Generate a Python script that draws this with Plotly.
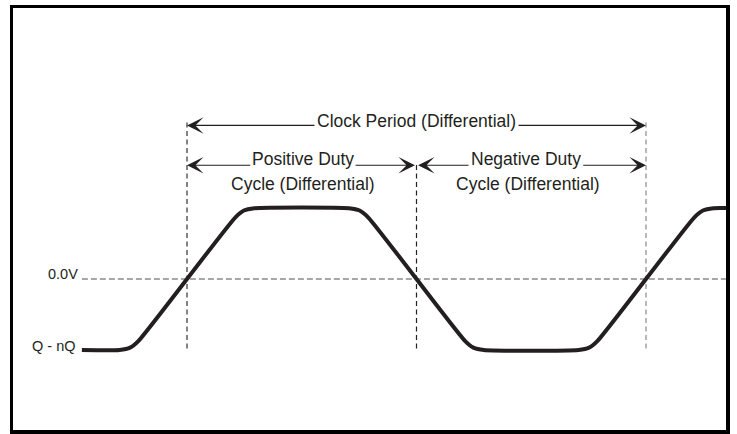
import plotly.graph_objects as go

# ---- data (time in clock periods, voltage normalised: 0 = crossing, +/-1 = rails)
wave_t = [-0.229, -0.147, -0.124, -0.105, 0.105, 0.124, 0.147,
          0.353, 0.376, 0.395, 0.605, 0.624, 0.647,
          0.853, 0.876, 0.895, 1.105, 1.124, 1.147, 1.19]
wave_v = [-1.0, -1.0, -0.967, -0.868, 0.868, 0.967, 1.0,
          1.0, 0.967, 0.868, -0.868, -0.967, -1.0,
          -1.0, -0.967, -0.868, 0.868, 0.967, 1.0, 1.0]

crossing_t = [0.0, 0.5, 1.0]
crossing_top = [2.227, 1.625, 2.227]
crossing_bottom = -0.98
crossing_colors = ["#333333", "#222222", "#8a8a8a"]

ref_level_v = 0.0
ref_level_t = [-0.229, 1.19]

level_labels = ["0.0V", "Q - nQ"]
level_label_t = [-0.233, -0.2375]
level_label_v = [0.078, -0.946]

# dimension arrows: (text, y level, start, end, text left/right edge)
dim_names = ["Clock Period (Differential)", "Positive Duty", "Negative Duty"]
dim_v = [2.167, 1.606, 1.606]
dim_start = [0.0, 0.0, 0.5033]
dim_end = [1.0, 0.4967, 1.0]
dim_text_left = [0.281, 0.141, 0.6166]
dim_text_right = [0.719, 0.364, 0.860]
dim_text_t = [0.5, 0.2527, 0.7386]
dim_text_v = [2.225, 1.697, 1.697]
sub_text = ["Cycle (Differential)", "Cycle (Differential)"]
sub_text_t = [0.2534, 0.742]
sub_text_v = [1.347, 1.347]

INK = "#231f20"
FONT = "Liberation Sans, Arial, Helvetica, sans-serif"

fig = go.Figure()

# reference level (0.0V) dashed line
fig.add_trace(go.Scatter(x=ref_level_t, y=[ref_level_v, ref_level_v], mode="lines",
                         line=dict(color="#8a8a8a", width=1.5, dash="6px,3px"),
                         hoverinfo="skip", showlegend=False))

# vertical crossing markers
for t, top, c in zip(crossing_t, crossing_top, crossing_colors):
    fig.add_trace(go.Scatter(x=[t, t], y=[crossing_bottom, top], mode="lines",
                             line=dict(color=c, width=1.2, dash="5px,3.5px"),
                             hoverinfo="skip", showlegend=False))

# waveform
fig.add_trace(go.Scatter(x=wave_t, y=wave_v, mode="lines",
                         line=dict(color=INK, width=4, shape="spline", smoothing=0.6),
                         hoverinfo="skip", showlegend=False))

annotations = []
for i in range(len(dim_names)):
    annotations.append(dict(x=dim_start[i], y=dim_v[i], ax=dim_text_left[i], ay=dim_v[i],
                            xref="x", yref="y", axref="x", ayref="y", text="",
                            showarrow=True, arrowhead=3, arrowsize=2.3, arrowwidth=1.2,
                            arrowcolor=INK, standoff=0))
    annotations.append(dict(x=dim_end[i], y=dim_v[i], ax=dim_text_right[i], ay=dim_v[i],
                            xref="x", yref="y", axref="x", ayref="y", text="",
                            showarrow=True, arrowhead=3, arrowsize=2.3, arrowwidth=1.2,
                            arrowcolor=INK, standoff=0))
    annotations.append(dict(x=dim_text_t[i], y=dim_text_v[i], xref="x", yref="y",
                            text=dim_names[i], showarrow=False, xanchor="center",
                            yanchor="middle", font=dict(family=FONT, size=17.5, color=INK)))
for s, t, v in zip(sub_text, sub_text_t, sub_text_v):
    annotations.append(dict(x=t, y=v, xref="x", yref="y", text=s, showarrow=False,
                            xanchor="center", yanchor="middle",
                            font=dict(family=FONT, size=17.5, color=INK)))
for s, t, v in zip(level_labels, level_label_t, level_label_v):
    annotations.append(dict(x=t, y=v, xref="x", yref="y", text=s, showarrow=False,
                            xanchor="right", yanchor="middle",
                            font=dict(family=FONT, size=14.5, color=INK)))

axis_common = dict(showgrid=False, zeroline=False, showticklabels=False, ticks="",
                   showline=True, mirror=True, linecolor="#000000", linewidth=3.5)

fig.update_layout(
    width=737, height=434,
    margin=dict(l=13, r=11, t=5, b=4),
    paper_bgcolor="white", plot_bgcolor="white",
    xaxis=dict(range=[-0.3791, 1.1743], fixedrange=True, **axis_common),
    yaxis=dict(range=[-2.129, 3.824], fixedrange=True, **axis_common),
    annotations=annotations,
    showlegend=False,
)

fig.write_html("out.html",
               config={"displayModeBar": False, "staticPlot": True},
               post_script="document.body.style.margin='0';document.body.style.overflow='hidden';")
